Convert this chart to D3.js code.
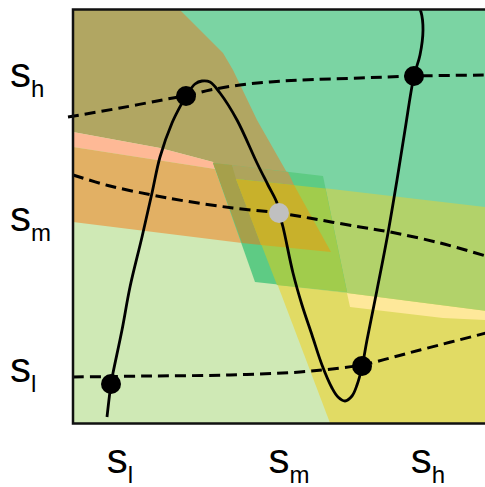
<!DOCTYPE html>
<html>
<head>
<meta charset="utf-8">
<script src="https://cdn.jsdelivr.net/npm/d3@7"></script>
<style>
  html, body { margin: 0; padding: 0; background: #fff; }
  svg { display: block; }
</style>
</head>
<body>
<script>
// ---------- DATA (diagram units: 0..413 on both axes) ----------
const tickLabels = [
  { base: "s", sub: "l" },
  { base: "s", sub: "m" },
  { base: "s", sub: "h" }
];
const xTickPos = [47, 216, 355];
const yTickPos = [41, 192, 336];

// coloured regions, painted in order
const regionBase = [[0,0],[413,0],[413,413],[0,413]];
const regionYellow = [[257,0],[199,153],[413,153],[413,0]];
const regionLightYellow = [[274,130],[413,112],[413,103],[370,105],[277,116]];
const regionYellowGreen = [[207,248],[413,248],[413,112],[274,130],[204,138],[189,183]];
const regionTeal = [[77,413],[413,413],[413,216],[250,235],[250,245],[212,249],[77,319]];
const regionOlive = [[0,413],[107,413],[150,370],[160,353],[184,303],[221,238],[142,255],[140,261],[87,275],[0,291]];
const regionSalmon = [[0,291],[87,275],[140,261],[142,254],[0,276]];
const regionOrange = [[0,276],[142,254],[169,180],[0,201]];
const regionPGreen = [[140,260],[250,247],[274,131],[182,141]];
const regionDarkOlive = [[140,260],[159,258],[188,178],[169,180]];
const regionOliveTop = [[159,258],[215,251],[221,238],[163,244]];
const regionMediumGreen = [[163,244],[252.5,234.5],[274,131],[204,138]];
const regionDarkYellow = [[163,244],[221,238],[258,171],[188,178]];

// solid response curve
const curveSolid = [
  [34,6],[38,39],[40,50],[49,93],[57,136],[69,186],[79,230],[87,266],[99,300],
  [109,320],[113,327],[122,339],[129,342],[137,341],[147,330],[164,303],[184,260],
  [195,238],[204,220],[206,210],[210,196],[220,150],[229,118],[239,88],[249,58],
  [259,35],[265,26],[272,22],[279,27],[284,38],[289,56],[294,83],[304,133],
  [315,190],[324,243],[332,293],[341,347],[347,368],[350,393],[348,411],[347,413]
];
// dashed level curves
const dashedHigh = [[-5,306],[47,315],[100,325],[113,327],[137,333],[167,338],[197,341],[227,343],[287,345],[341,347],[413,348]];
const dashedMid = [[0,248],[37,237],[79,228],[112,222],[160,215],[206,210],[247,203],[287,196],[317,191],[367,180],[413,167]];
const dashedLow = [[0,46],[77,47],[157,48],[227,51],[267,55],[289,58],[317,65],[347,73],[413,90]];

// equilibrium points
const stablePoints = [[38,39],[113,327],[289,57],[341,347]];
const unstablePoints = [[206,210]];

// ---------- DRAWING ----------
const W = 485, H = 487;
const svg = d3.select("body").append("svg").attr("width", W).attr("height", H);

const x = d3.scaleLinear().domain([0, 413]).range([73, 486]);
const y = d3.scaleLinear().domain([0, 413]).range([423, 10]);

const regions = [
  [regionBase, "#cfe9b5"],
  [regionYellow, "#e1db64"],
  [regionLightYellow, "#fee89a"],
  [regionYellowGreen, "#b2d26a"],
  [regionTeal, "#7bd4a3"],
  [regionOlive, "#b1a662"],
  [regionSalmon, "#feb996"],
  [regionOrange, "#e2b064"],
  [regionPGreen, "#5ecb84"],
  [regionDarkOlive, "#a6a04b"],
  [regionOliveTop, "#aea45c"],
  [regionMediumGreen, "#a1cc4c"],
  [regionDarkYellow, "#c8b12b"]
];

svg.append("clipPath").attr("id", "plotclip")
  .append("rect").attr("x", x(0)).attr("y", y(413)).attr("width", x(413) - x(0)).attr("height", y(0) - y(413));

const gRegions = svg.append("g").attr("clip-path", "url(#plotclip)");
gRegions.selectAll("path").data(regions).join("path")
  .attr("d", d => "M" + d[0].map(p => [x(p[0]), y(p[1])].join(",")).join("L") + "Z")
  .attr("fill", d => d[1]);

const lineGen = d3.line().x(d => x(d[0])).y(d => y(d[1])).curve(d3.curveCatmullRom.alpha(0.5));

[dashedHigh, dashedMid, dashedLow].forEach(arr => {
  svg.append("path").attr("d", lineGen(arr))
    .attr("fill", "none").attr("stroke", "#000").attr("stroke-width", 3)
    .attr("stroke-dasharray", "11,6");
});

svg.append("path").attr("d", lineGen(curveSolid))
  .attr("fill", "none").attr("stroke", "#000").attr("stroke-width", 2.8);

svg.selectAll("circle.st").data(stablePoints).join("circle").attr("class", "st")
  .attr("cx", d => x(d[0])).attr("cy", d => y(d[1])).attr("r", 10).attr("fill", "#000");
svg.selectAll("circle.un").data(unstablePoints).join("circle").attr("class", "un")
  .attr("cx", d => x(d[0])).attr("cy", d => y(d[1])).attr("r", 10).attr("fill", "#c0c0c0");

// frame
svg.append("path")
  .attr("d", `M${x(413)+2},${y(413)-0.5}H${x(0)}V${y(0)+0.5}H${x(413)+2}`)
  .attr("fill", "none").attr("stroke", "#111").attr("stroke-width", 2.5);

// labels
const font = "'Liberation Sans', Arial, Helvetica, sans-serif";
function label(t, px, py, anchor) {
  const tx = svg.append("text").attr("x", px).attr("y", py)
    .attr("font-family", font).attr("font-size", 42).attr("fill", "#000")
    .attr("text-anchor", anchor);
  tx.append("tspan").text(t.base);
  tx.append("tspan").attr("font-size", 24).attr("dy", 10).text(t.sub);
}
tickLabels.forEach((t, i) => label(t, x(xTickPos[i]), 473, "middle"));
tickLabels.forEach((t, i) => label(t, 10, y(yTickPos[i]), "start"));
</script>
</body>
</html>
